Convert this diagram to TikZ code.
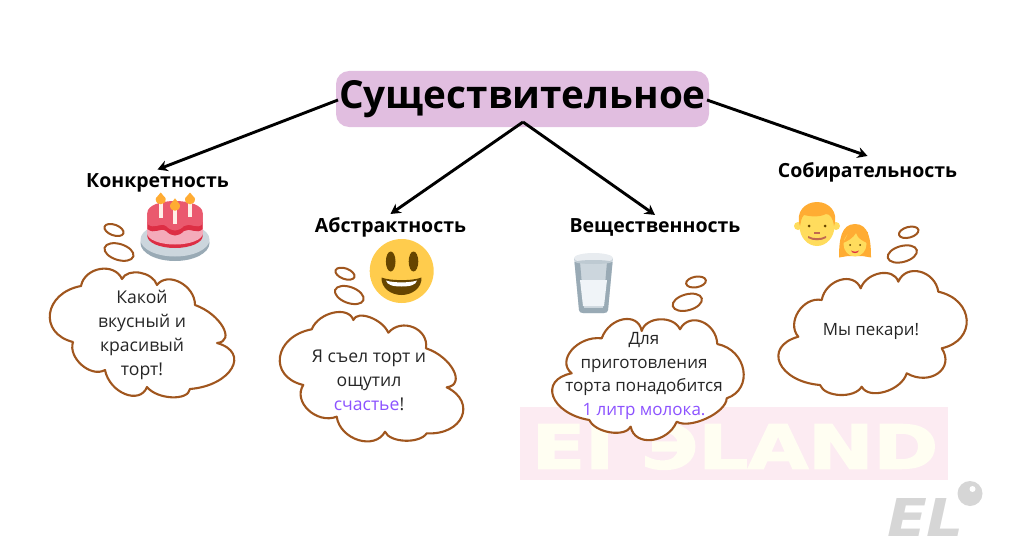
\documentclass[tikz,border=0pt]{standalone}
\usepackage{fontspec}
\usepackage{graphicx}
\setmainfont{Open Sans}
\newfontfamily\wmfont{DejaVu Sans}
\newfontfamily\wmheavy[FakeBold=2.5]{DejaVu Sans Bold}
\usetikzlibrary{arrows.meta}
\definecolor{cloudc}{HTML}{A0561E}
\definecolor{boxc}{HTML}{E1BEE0}
\definecolor{txt}{HTML}{262626}
\definecolor{purp}{HTML}{8C52FF}
\definecolor{wmbg}{HTML}{FCEBF2}
\definecolor{wmfg}{HTML}{FFFEF2}
\definecolor{logoc}{HTML}{D6D6D6}
\definecolor{skin}{HTML}{FFDC5D}
\definecolor{hair}{HTML}{FFAC33}
\definecolor{plated}{HTML}{99AAB5}
\definecolor{platel}{HTML}{CCD6DD}
\definecolor{icing}{HTML}{DD2E44}
\definecolor{cakep}{HTML}{F4ABBA}
\definecolor{caket}{HTML}{EA596E}
\definecolor{candle}{HTML}{FFF0E8}
\definecolor{smile}{HTML}{FFCC4D}
\definecolor{brownc}{HTML}{664500}
\definecolor{milk}{HTML}{F0F4F8}
\definecolor{rim}{HTML}{E8ECF0}
\definecolor{inner}{HTML}{BECAD2}
\definecolor{nosec}{HTML}{C1694F}
\tikzset{
  cloud/.style={draw=cloudc,line width=2.1pt,fill=white,line join=round},
  bubble/.style={draw=cloudc,line width=2pt},
  cloudtext/.style={font=\fontsize{17.6pt}{24pt}\selectfont,text=txt,align=center,inner sep=0pt},
  heading/.style={font=\bfseries\fontsize{19.5pt}{23pt}\selectfont,text=black,inner sep=0pt},
  link/.style={draw=black,line width=2.9pt,-{Stealth[length=10pt,width=11pt]}},
}
\newcommand{\flame}[3]{% x, tip y, centre y
  \fill[hair] (#1,#2) .. controls (#1+1.5,#2+3) and (#1+5,#3-2) .. (#1+5,#3) .. controls (#1+5,#3+7) and (#1-5,#3+7) .. (#1-5,#3) .. controls (#1-5,#3-2) and (#1-1.5,#2+3) .. cycle;}
% one lobe of a cloud: from A through apex P to B
\newcommand{\lb}[6]{.. controls ({(#1+#5)/2+(#3-(#1+#5)/2)*4/3+(#1-#5)*0.36},{(#2+#6)/2+(#4-(#2+#6)/2)*4/3+(#2-#6)*0.36}) and ({(#1+#5)/2+(#3-(#1+#5)/2)*4/3-(#1-#5)*0.36},{(#2+#6)/2+(#4-(#2+#6)/2)*4/3-(#2-#6)*0.36}) .. (#5,#6) }
\begin{document}
\begin{tikzpicture}[x=1pt,y=-1pt]
\useasboundingbox (0,0) rectangle (1024,559);
% watermark
\fill[wmbg] (520,407) rectangle (948,480);
\node[inner sep=0pt,text=wmfg] (wm) at (735,446.5) {\resizebox{406pt}{45pt}{\wmheavy EI ЭLAND}};
% logo
\node[inner sep=0pt,text=logoc] (logo) at (925.5,517) {\resizebox{77pt}{38pt}{\wmfont\bfseries\itshape EL}};
\fill[logoc] (970,493.5) circle (12.5);
\fill[white] (972.5,489) circle (3);
% title and headings
\node[fill=boxc,rounded corners=13pt,minimum width=373pt,minimum height=56pt,inner sep=0pt,font=\bfseries\fontsize{38.7pt}{44pt}\selectfont] (title) at (522.5,99) {Существительное};
\node[heading] (konk) at (157.5,183) {Конкретность};
\node[heading] (abst) at (390.5,227) {Абстрактность};
\node[heading] (vesh) at (655,227) {Вещественность};
\node[heading] (sobr) at (867.5,172) {Собирательность};
\coordinate (hub) at (523,122);
\coordinate (tl) at (338,100);
\coordinate (tr) at (707,100);
\draw[link] (tl) -- ([yshift=4pt]konk.north);
\draw[link] (tr) -- ([yshift=6pt]sobr.north);
\draw[link] (hub) -- ([yshift=3pt]abst.north);
\draw[link] (hub) -- ([yshift=3pt]vesh.north);
% cloud 1
\draw[bubble] (114,230) ellipse[x radius=10,y radius=5.3,rotate=-20];
\draw[bubble] (119,252) ellipse[x radius=15,y radius=8,rotate=-17];
\draw[cloud] (81,286)
 \lb{81}{286}{100}{269}{122}{279}
 \lb{122}{279}{140}{272.7}{157}{285}
 \lb{157}{285}{180}{282.3}{195}{305}
 \lb{195}{305}{222.7}{326.7}{217}{343}
 \lb{217}{343}{231.7}{368.3}{190}{389}
 \lb{190}{389}{171.7}{397.3}{147}{387}
 \lb{147}{387}{125}{394}{105}{370}
 \lb{105}{370}{81.7}{365}{73}{342}
 \lb{73}{342}{50}{313.3}{81}{286} -- cycle;
\node[cloudtext] (t1) at (142,335) {Какой\\вкусный и\\красивый\\торт!};
% cloud 2
\draw[bubble] (345,273.7) ellipse[x radius=10,y radius=5.3,rotate=-20];
\draw[bubble] (349.3,295) ellipse[x radius=15,y radius=8,rotate=-20];
\draw[cloud] (311.7,329.3)
 \lb{311.7}{329.3}{333.3}{312.7}{353.3}{320}
 \lb{353.3}{320}{370}{317.3}{388.3}{332.7}
 \lb{388.3}{332.7}{413.3}{327.3}{426}{348.3}
 \lb{426}{348.3}{453.3}{370}{446.7}{387.3}
 \lb{446.7}{387.3}{461.7}{416.7}{426.7}{433.3}
 \lb{426.7}{433.3}{405}{440.7}{385}{431.7}
 \lb{385}{431.7}{358.3}{440}{336.7}{416.7}
 \lb{336.7}{416.7}{308.3}{410}{303.3}{385}
 \lb{303.3}{385}{280}{356.7}{311.7}{329.3} -- cycle;
\node[cloudtext] (t2) at (369,380) {Я съел торт и\\ощутил\\\textcolor{purp}{счастье}!};
% cloud 3
\draw[bubble] (696,282) ellipse[x radius=10,y radius=5.3,rotate=10];
\draw[bubble] (687.3,302.3) ellipse[x radius=15,y radius=8,rotate=15];
\draw[cloud] (601.7,338.3)
 \lb{601.7}{338.3}{623.3}{319.3}{641.7}{331}
 \lb{641.7}{331}{660}{319.3}{680}{329.3}
 \lb{680}{329.3}{701.7}{321.7}{717.3}{344}
 \lb{717.3}{344}{743.3}{370}{726.7}{398.3}
 \lb{726.7}{398.3}{706.7}{418.3}{676.7}{421.7}
 \lb{676.7}{421.7}{651.7}{440}{630.7}{426.7}
 \lb{630.7}{426.7}{610}{432.3}{589.3}{420}
 \lb{589.3}{420}{553.3}{396.7}{571.7}{373.3}
 \lb{571.7}{373.3}{571.7}{350}{601.7}{338.3} -- cycle;
\node[cloudtext,font=\fontsize{17pt}{23.5pt}\selectfont] (t3) at (644,376) {Для\\приготовления\\торта понадобится\\\textcolor{purp}{1 литр молока.}};
% cloud 4
\draw[bubble] (908.7,232.3) ellipse[x radius=10,y radius=5.3,rotate=15];
\draw[bubble] (902.3,254) ellipse[x radius=15,y radius=8,rotate=15];
\draw[cloud] (821.7,300)
 \lb{821.7}{300}{840}{280}{860.7}{288.3}
 \lb{860.7}{288.3}{880}{273.3}{898.3}{281.7}
 \lb{898.3}{281.7}{920}{271.7}{938.3}{291.7}
 \lb{938.3}{291.7}{966.7}{320}{941.7}{348.3}
 \lb{941.7}{348.3}{938}{373.3}{906.7}{373.3}
 \lb{906.7}{373.3}{885}{391.7}{861.7}{386.7}
 \lb{861.7}{386.7}{840}{395}{820}{385}
 \lb{820}{385}{780}{363.3}{798.3}{336.7}
 \lb{798.3}{336.7}{798.3}{311.7}{821.7}{300} -- cycle;
\node[cloudtext,font=\fontsize{16.9pt}{24pt}\selectfont] (t4) at (871,331) {Мы пекари!};
% cake
\fill[plated] (175,243) ellipse[x radius=34.5,y radius=18];
\fill[platel] (175,239.5) ellipse[x radius=34.5,y radius=17];
\fill[icing] (175,236) ellipse[x radius=27.7,y radius=12];
\fill[cakep] (175,233.5) ellipse[x radius=27.7,y radius=11];
\fill[cakep] (147.3,222) rectangle (202.7,233.5);
\fill[icing] (147.3,213) -- (202.7,213) -- (202.7,229) .. controls (197,235) and (190,227) .. (184,231) .. controls (178,237) and (172,237) .. (166,231) .. controls (160,227) and (155,235) .. (147.3,229) -- cycle;
\fill[caket] (147.3,213) .. controls (147.3,197) and (202.7,197) .. (202.7,213) -- (202.7,224) .. controls (197,230) and (190,222) .. (184,226) .. controls (178,232) and (172,232) .. (166,226) .. controls (160,222) and (155,230) .. (147.3,224) -- cycle;
\fill[candle] (158.7,202) rectangle (162.7,218);
\fill[candle] (173,208) rectangle (177,224);
\fill[candle] (188,202) rectangle (192,217);
\flame{160.7}{192.5}{199}
\flame{175}{198.3}{205.5}
\flame{190}{192.5}{199}
% smiley
\fill[smile] (401.7,271) circle (32);
\fill[brownc] (390.7,261.5) ellipse[x radius=4.8,y radius=10];
\fill[brownc] (413.5,261.5) ellipse[x radius=4.8,y radius=10];
\fill[brownc] (381.5,277.5) .. controls (390,281) and (413,281) .. (421.5,277.5) .. controls (422,288) and (412,295) .. (401.5,295) .. controls (391,295) and (381,288) .. (381.5,277.5) -- cycle;
\fill[white] (386,280.5) .. controls (393,283) and (410,283) .. (417,280.5) .. controls (416,285) and (410,286.5) .. (401.5,286.5) .. controls (393,286.5) and (387,285) .. (386,280.5) -- cycle;
% glass
\fill[platel] (574,258) -- (613,258) -- (608,310) .. controls (608,312) and (606,313) .. (604,313) -- (583,313) .. controls (581,313) and (579,312) .. (579,310) -- cycle;
\fill[plated] (574.5,262) -- (580,262) -- (584,308) -- (603,308) -- (607,262) -- (612.5,262) -- (608,310) .. controls (608,312) and (606,313) .. (604,313) -- (583,313) .. controls (581,313) and (579,312) .. (579,310) -- cycle;
\fill[milk] (580,280) -- (607,280) -- (604,306) -- (583,306) -- cycle;
\fill[rim] (593.5,258) ellipse[x radius=19.5,y radius=5];
\fill[inner] (593.5,262) ellipse[x radius=18,y radius=2];
% boy
\fill[skin] (798,226) circle (4);
\fill[skin] (836,226) circle (4);
\fill[skin] (817,226) ellipse[x radius=17.5,y radius=20];
\fill[hair] (800,226) .. controls (795,212) and (805,202) .. (817,202) .. controls (829,202) and (839,212) .. (834,226) .. controls (833,218) and (830,214) .. (826,214) .. controls (818,218) and (808,216) .. (804,215) .. controls (801,218) and (801,222) .. (800,226) -- cycle;
\fill[brownc] (809,226) circle (1.5) (825,226) circle (1.5);
\fill[nosec] (814,232) rectangle (820,233.5);
\fill[nosec] (808,236) .. controls (813,239) and (821,239) .. (826,236) -- (826,238) .. controls (821,241) and (813,241) .. (808,238) -- cycle;
% girl
\fill[hair] (839,257.5) .. controls (839,240) and (841,224) .. (855,224) .. controls (869,224) and (871,240) .. (871,257.5) -- (862,256) -- (848,256) -- cycle;
\fill[skin] (855,244) ellipse[x radius=11.5,y radius=12.5];
\fill[hair] (843,243) .. controls (848,241) and (853,238) .. (856,233) .. controls (858,239) and (863,241) .. (867,243) -- (868,232) -- (850,230) -- cycle;
\fill[brownc] (850,245) circle (1) (860,245) circle (1);
\fill[icing] (851,250.5) .. controls (853,252) and (857,252) .. (859,250.5) .. controls (858,254) and (852,254) .. (851,250.5) -- cycle;
\end{tikzpicture}
\end{document}
